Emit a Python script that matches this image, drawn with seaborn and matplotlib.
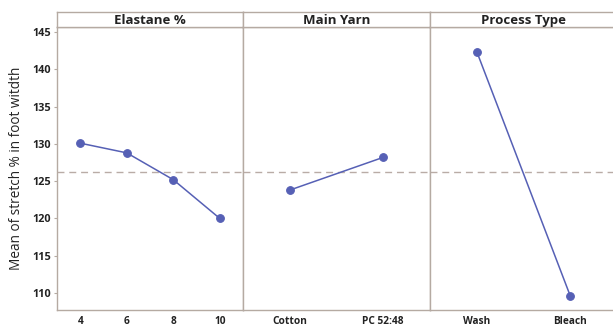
import matplotlib
matplotlib.use("Agg")
import matplotlib.pyplot as plt
import seaborn as sns
import pandas as pd

sns.set_style("white")
plt.rcParams['font.family'] = ['Open Sans', 'DejaVu Sans']

panel_titles = ["Elastane %", "Main Yarn", "Process Type"]
elastane_levels = ["4", "6", "8", "10"]
elastane_means = [130.1, 128.8, 125.2, 120.0]
yarn_levels = ["Cotton", "PC 52:48"]
yarn_means = [123.8, 128.2]
process_levels = ["Wash", "Bleach"]
process_means = [142.4, 109.6]
grand_mean = 126.2
y_ticks = [110, 115, 120, 125, 130, 135, 140, 145]
y_label = "Mean of stretch % in foot witdth"

panels = [
    (panel_titles[0], elastane_levels, elastane_means),
    (panel_titles[1], yarn_levels, yarn_means),
    (panel_titles[2], process_levels, process_means),
]

W, H = 613, 328
fig = plt.figure(figsize=(W / 100, H / 100), dpi=100)

edge = "#b5aaa2"
blue = "#5660b5"
left_px = [57, 243, 430]
right_px = [243, 430, 617]
top_px, strip_px, bottom_px = 12, 27, 310

for i, (title, levels, means) in enumerate(panels):
    x0 = left_px[i] / W
    w = (right_px[i] - left_px[i]) / W
    y0 = 1 - bottom_px / H
    h = (bottom_px - strip_px) / H
    ax = fig.add_axes([x0, y0, w, h])
    df = pd.DataFrame({"level": levels, "mean": means})
    sns.pointplot(data=df, x="level", y="mean", order=levels, ax=ax,
                  color=blue, errorbar=None, markersize=5.5, linewidth=1.1)
    ax.axhline(grand_mean, color="#b9aca6", linestyle=(0, (5, 3.5)), linewidth=1.0, zorder=0)
    ax.set_xlim(-0.5, len(levels) - 0.5)
    ax.set_ylim(107.7, 145.7)
    ax.set_xlabel("")
    for s in ax.spines.values():
        s.set_color(edge)
        s.set_linewidth(1.0)
    ax.tick_params(axis="x", length=2.5, color=edge, labelsize=7.3, pad=2)
    for t in ax.get_xticklabels():
        t.set_fontweight("bold")
        t.set_color("#222222")
    ax.set_yticks(y_ticks)
    if i == 0:
        ax.tick_params(axis="y", length=2.5, color=edge, labelsize=7.8, pad=2, left=True)
        for t in ax.get_yticklabels():
            t.set_fontweight("bold")
            t.set_color("#222222")
        ax.set_ylabel(y_label, fontsize=9.8, color="#222222", labelpad=6)
    else:
        ax.tick_params(axis="y", left=False, labelleft=False)
        ax.set_ylabel("")
    # strip
    sax = fig.add_axes([x0, 1 - strip_px / H, w, (strip_px - top_px) / H])
    sax.set_xticks([]); sax.set_yticks([])
    for s in sax.spines.values():
        s.set_color(edge)
        s.set_linewidth(1.0)
    sax.set_facecolor("white")
    sax.text(0.5, 0.45, title, ha="center", va="center", fontsize=9.5,
             fontweight="bold", color="#222222", transform=sax.transAxes)

fig.savefig("out.png", dpi=100)
